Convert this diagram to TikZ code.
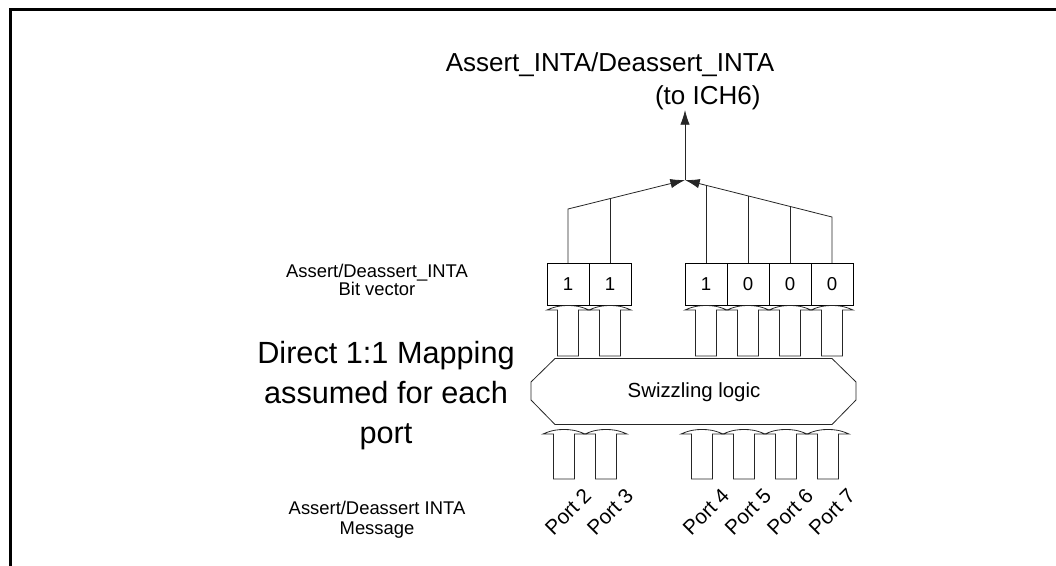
\documentclass[tikz,border=0pt]{standalone}
\usepackage{fontspec}
\setmainfont{Liberation Sans}
\usetikzlibrary{arrows.meta}
\begin{document}
\begin{tikzpicture}[x=0.75pt,y=-0.75pt,
  every node/.style={inner sep=0pt, outer sep=0pt},
  bitbox/.style={draw, line width=0.6pt, minimum width=31.5pt, minimum height=31.5pt, font=\fontsize{14}{16}\selectfont},
  thin/.style={line width=0.6pt, draw=black!85},
  tip/.style={-{Latex[length=11pt,width=7pt]}},
  fat/.style={line width=0.6pt, draw=black!85},
  lbl/.style={font=\fontsize{13.8}{13.5}\selectfont, align=center},
  big/.style={font=\fontsize{23}{30}\selectfont, align=center},
  ttl/.style={font=\fontsize{19.5}{24}\selectfont},
  port/.style={font=\fontsize{15.5}{16}\selectfont, rotate=45},
]
\useasboundingbox (0,0) rectangle (1056,565);
\draw[line width=2.25pt] (10.5,566) -- (10.5,9) -- (1057,9);

% title
\node[ttl, anchor=base] (title) at (610,71) {Assert\_INTA/Deassert\_INTA};
\node[ttl, anchor=base west] (ich) at (655,104) {(to ICH6)};

% bit vector
\node[bitbox] (b2) at (568,284) {1};
\node[bitbox] (b3) at (610,284) {1};
\node[bitbox] (b4) at (706,284) {1};
\node[bitbox] (b5) at (748,284) {0};
\node[bitbox] (b6) at (790,284) {0};
\node[bitbox] (b7) at (832,284) {0};

\coordinate (J) at (685,180);
\coordinate (up) at (685,110);
\coordinate (s2) at (568,209);
\coordinate (s3) at (610,198.6);
\coordinate (s4) at (706,185.3);
\coordinate (s5) at (748,195.9);
\coordinate (s6) at (790,206.4);
\coordinate (s7) at (832,217);

\draw[thin, tip] (b2.north) -- (s2) -- (J);
\draw[thin] (b3.north) -- (s3);
\draw[thin, tip] (b7.north) -- (s7) -- (J);
\draw[thin] (b4.north) -- (s4);
\draw[thin] (b5.north) -- (s5);
\draw[thin] (b6.north) -- (s6);
\draw[thin, tip] (J) -- (up);

% swizzling octagon
\draw[fat] (555,358.5) -- (832,358.5) -- (856,382) -- (856,400) -- (832,424.5) -- (555,424.5) -- (531,400) -- (531,382) -- cycle;
\node[font=\fontsize{15.3}{16}\selectfont] (swz) at (694,392) {Swizzling logic};

% block arrows
\foreach \cx in {568,610,706,748,790,832}{
  \draw[fat] (\cx-10.5,356) -- (\cx-10.5,310) -- (\cx-21,310)
    .. controls (\cx-12,306) and (\cx-6,305.5) .. (\cx,305.5)
    .. controls (\cx+6,305.5) and (\cx+12,306) .. (\cx+21,310)
    -- (\cx+10.5,310) -- (\cx+10.5,356) -- cycle;
}
\foreach \cx/\p in {564/2,606/3,702/4,744/5,786/6,828/7}{
  \draw[fat] (\cx-10.5,479) -- (\cx-10.5,434) -- (\cx-21,434)
    .. controls (\cx-12,430) and (\cx-6,429.5) .. (\cx,429.5)
    .. controls (\cx+6,429.5) and (\cx+12,430) .. (\cx+21,434)
    -- (\cx+10.5,434) -- (\cx+10.5,479) -- cycle;
  \node[port] (p\p) at (\cx+4,512) {Port \p};
}

% labels
\node[lbl] (bvl) at (377,280) {Assert/Deassert\_INTA\\Bit vector};
\node[big] (map) at (386,396) {Direct 1:1 Mapping\\assumed for each\\port};
\node[lbl, font=\fontsize{13.8}{15}\selectfont] (msg) at (377,520) {Assert/Deassert INTA\\Message};
\end{tikzpicture}
\end{document}
